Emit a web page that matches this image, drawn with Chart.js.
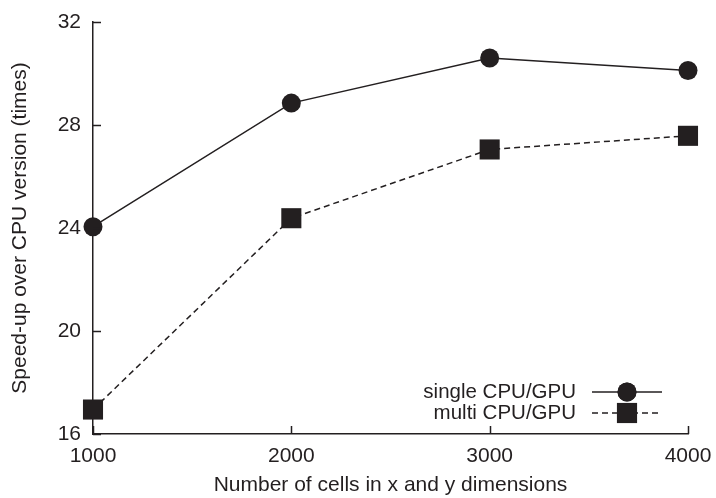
<!DOCTYPE html>
<html>
<head>
<meta charset="utf-8">
<script src="https://cdn.jsdelivr.net/npm/chart.js@4.4.1/dist/chart.umd.min.js"></script>
<style>
  html, body { margin: 0; padding: 0; background: #fff; }
  #wrap { width: 716px; height: 498px; }
</style>
</head>
<body>
<div id="wrap"><canvas id="speedupChart" width="716" height="498"></canvas></div>
<script>
const cells = [1000, 2000, 3000, 4000];
const singleSpeedup = [24.05, 28.85, 30.6, 30.12];
const multiSpeedup = [16.95, 24.38, 27.05, 27.58];
const yTicks = [16, 20, 24, 28, 32];
const xTicks = [1000, 2000, 3000, 4000];

const ink = '#231f20';
const fontFamily = '"Liberation Sans", Arial, Helvetica, sans-serif';

// let layout.padding alone decide the plot edges
function noEdgePadding(axis) {
    axis.paddingLeft = 0;
    axis.paddingRight = 0;
    axis.paddingTop = 0;
    axis.paddingBottom = 0;
}

// short inward tick marks on both axes, plus a legend with text left of the sample
const plotExtras = {
    id: 'plotExtras',
    afterDraw(chart) {
        const ctx = chart.ctx;
        const x = chart.scales.x, y = chart.scales.y;
        const area = chart.chartArea;
        ctx.save();
        ctx.strokeStyle = ink;
        ctx.lineWidth = 1.5;
        ctx.beginPath();
        yTicks.forEach(v => {
            const py = Math.round(y.getPixelForValue(v)) + 0.5;
            ctx.moveTo(area.left, py);
            ctx.lineTo(area.left + 8, py);
        });
        xTicks.forEach(v => {
            const px = Math.round(x.getPixelForValue(v)) + 0.5;
            ctx.moveTo(px, area.bottom);
            ctx.lineTo(px, area.bottom - 8);
        });
        ctx.stroke();

        const lineEnd = area.right - 26;
        const lineStart = lineEnd - 70;
        const mid = (lineStart + lineEnd) / 2;
        ctx.font = '20.5px ' + fontFamily;
        ctx.textAlign = 'right';
        ctx.textBaseline = 'middle';
        chart.data.datasets.forEach((ds, i) => {
            const rowY = area.bottom - 42 + i * 21;
            ctx.fillStyle = ink;
            ctx.fillText(ds.label, lineStart - 16, rowY);
            ctx.setLineDash(ds.borderDash || []);
            ctx.lineWidth = ds.borderWidth;
            ctx.beginPath();
            ctx.moveTo(lineStart, rowY);
            ctx.lineTo(lineEnd, rowY);
            ctx.stroke();
            ctx.setLineDash([]);
            ctx.fillStyle = ds.pointBackgroundColor;
            Chart.helpers.drawPoint(ctx, {
                pointStyle: ds.pointStyle,
                radius: ds.pointRadius,
                rotation: 0,
                borderWidth: 0
            }, mid, rowY);
            ctx.fill();
        });
        ctx.restore();
    }
};

new Chart(document.getElementById('speedupChart').getContext('2d'), {
    type: 'line',
    data: {
        labels: cells,
        datasets: [{
            label: 'single CPU/GPU',
            data: cells.map((c, i) => ({ x: c, y: singleSpeedup[i] })),
            borderColor: ink,
            borderWidth: 1.5,
            pointStyle: 'circle',
            pointRadius: 9.5,
            pointBackgroundColor: ink,
            pointBorderWidth: 0,
            tension: 0
        }, {
            label: 'multi CPU/GPU',
            data: cells.map((c, i) => ({ x: c, y: multiSpeedup[i] })),
            borderColor: ink,
            borderWidth: 1.5,
            borderDash: [6, 4],
            pointStyle: 'rect',
            pointRadius: 14.2,
            pointBackgroundColor: ink,
            pointBorderWidth: 0,
            tension: 0
        }]
    },
    options: {
        responsive: false,
        animation: false,
        clip: false,
        layout: { padding: { top: 22, right: 28, left: 0, bottom: 0 } },
        plugins: {
            legend: { display: false },
            tooltip: { enabled: false }
        },
        scales: {
            x: {
                type: 'linear',
                min: 1000,
                max: 4000,
                afterBuildTicks: axis => { axis.ticks = xTicks.map(v => ({ value: v })); },
                afterFit: axis => { axis.height = 64; noEdgePadding(axis); },
                grid: { display: false, drawTicks: false },
                border: { display: true, color: ink, width: 1.5 },
                ticks: {
                    color: ink,
                    padding: 10,
                    maxRotation: 0,
                    callback: v => String(v),
                    font: { family: fontFamily, size: 21 }
                },
                title: {
                    display: true,
                    text: 'Number of cells in x and y dimensions',
                    color: ink,
                    padding: { top: 4, bottom: 0 },
                    font: { family: fontFamily, size: 21 }
                }
            },
            y: {
                min: 16,
                max: 32,
                afterBuildTicks: axis => { axis.ticks = yTicks.map(v => ({ value: v })); },
                afterFit: axis => { axis.width = 93; noEdgePadding(axis); },
                grid: { display: false, drawTicks: false },
                border: { display: true, color: ink, width: 1.5 },
                ticks: {
                    color: ink,
                    padding: 12,
                    font: { family: fontFamily, size: 21 }
                },
                title: {
                    display: true,
                    text: 'Speed-up over CPU version (times)',
                    color: ink,
                    padding: { top: 7.5, bottom: 0 },
                    font: { family: fontFamily, size: 21 }
                }
            }
        }
    },
    plugins: [plotExtras]
});
</script>
</body>
</html>
